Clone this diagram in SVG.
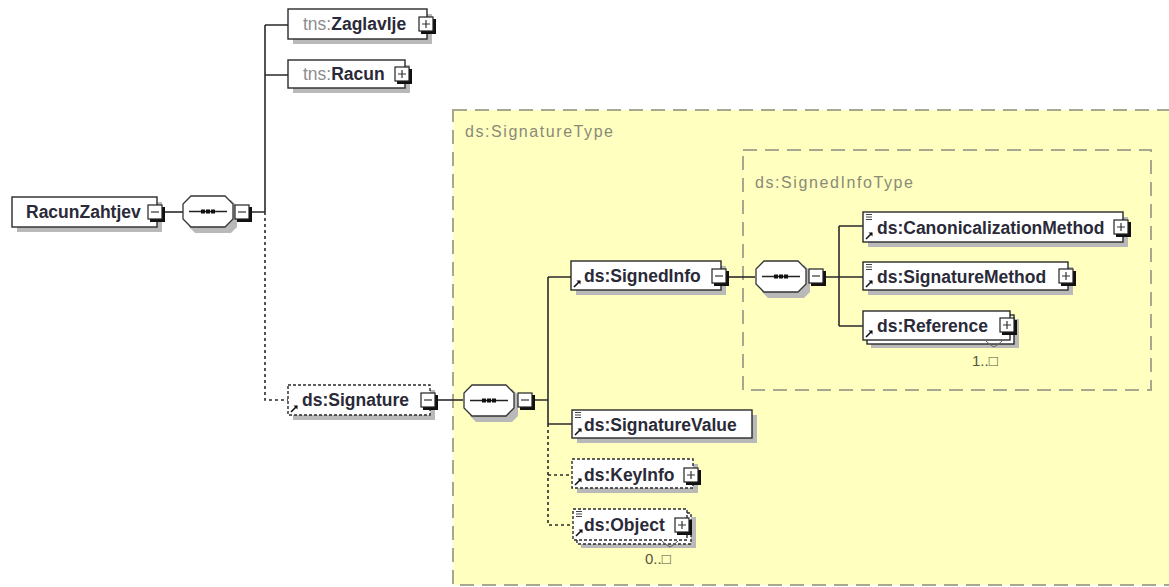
<svg xmlns="http://www.w3.org/2000/svg" width="1169" height="587" viewBox="0 0 1169 587">
<style>
.bg{fill:#ffffff}
.ybox{fill:#ffffc0;stroke:#a8a890;stroke-width:2;stroke-dasharray:14,8}
.ibox{fill:none;stroke:#a8a890;stroke-width:2;stroke-dasharray:14,8}
.box{fill:#ffffff;stroke:#2a2a2a;stroke-width:1.4}
.dbox{fill:#ffffff;stroke:#2a2a2a;stroke-width:1.4;stroke-dasharray:3,2}
.sh{fill:#b9b9b9}
.name{font-family:"Liberation Sans",Arial,sans-serif;font-weight:bold;font-size:17.5px;fill:#2a2a38}
.pfx{fill:#8c8c8c;font-weight:normal}
.lbl{font-family:"Liberation Sans",Arial,sans-serif;font-size:16px;fill:#8a8a78}
.occ{font-family:"Liberation Sans",Arial,sans-serif;font-size:15px;fill:#55553a}
.conn{fill:none;stroke:#2a2a2a;stroke-width:1.6}
.dot{fill:none;stroke:#2a2a2a;stroke-width:1.6;stroke-dasharray:3,3}
.ico{fill:#ffffff;stroke:#222;stroke-width:1.2}
.ish{fill:#111}
.mark{fill:none;stroke:#333;stroke-width:1.2}
</style>
<defs>
<g id="plus">
<rect class="ish" x="2" y="2" width="15" height="15"/>
<rect class="ico" x="0" y="0" width="14" height="14"/>
<path class="mark" d="M3,7H11M7,3V11"/>
</g>
<g id="minus">
<rect class="ish" x="2" y="2" width="15" height="15"/>
<rect class="ico" x="0" y="0" width="14" height="14"/>
<path class="mark" d="M3,7H11"/>
</g>
<g id="refarrow">
<path d="M0,8L6,2" stroke="#111" stroke-width="1.6"/>
<path d="M2.5,1.5H6.5V5.5Z" fill="#111"/>
</g>
<g id="simple">
<path d="M0,0.5H6M0,3H6M0,5.5H6" stroke="#444" stroke-width="1.1"/>
</g>
<g id="seq">
<path class="sh" d="M12,4H48L54,10V31L48,37H12L6,31V10Z"/>
<path fill="#ffffff" stroke="#333" stroke-width="1.3" d="M8,0H42L50,8V23L42,31H8L0,23V8Z"/>
<path d="M6,15.5H44" stroke="#222" stroke-width="1.4"/>
<rect x="18" y="13.5" width="4" height="4" fill="#111"/>
<rect x="23" y="13.5" width="4" height="4" fill="#111"/>
<rect x="28" y="13.5" width="4" height="4" fill="#111"/>
</g>
</defs>
<rect class="bg" x="0" y="0" width="1169" height="587"/>
<g id="type-SignatureType">
<rect class="ybox" x="453" y="110" width="730" height="475"/>
<text class="lbl" x="465" y="137" textLength="148" lengthAdjust="spacing">ds:SignatureType</text>
</g>
<g id="type-SignedInfoType">
<rect class="ibox" x="743" y="150" width="408" height="240"/>
<text class="lbl" x="755" y="188" textLength="158" lengthAdjust="spacing">ds:SignedInfoType</text>
</g>
<g id="connectors">
<path class="conn" d="M162,212H183"/>
<path class="conn" d="M250,212H265M265,25V212M265,25H288M265,75H288"/>
<path class="dot" d="M265,212V400H288"/>
<path class="conn" d="M436,400H463"/>
<path class="conn" d="M533,400H548M548,277V424M548,277H571M548,424H572"/>
<path class="dot" d="M548,424V525H573M548,475H572"/>
<path class="conn" d="M728,277H755"/>
<path class="conn" d="M824,277H839M839,226V326M839,226H863M839,277H863M839,326H863"/>
</g>
<g id="node-RacunZahtjev">
<rect class="sh" x="17" y="202" width="145" height="30"/>
<rect class="box" x="12" y="197" width="145" height="30"/>
<text class="name" x="26" y="218">RacunZahtjev</text>
<use href="#minus" x="148" y="205"/>
</g>
<g id="node-seq1">
<use href="#seq" x="183" y="196"/>
<use href="#minus" x="235" y="205"/>
</g>
<g id="node-Zaglavlje">
<rect class="sh" x="293" y="14" width="139" height="30"/>
<rect class="box" x="288" y="9" width="139" height="30"/>
<text class="name" x="303" y="30"><tspan class="pfx">tns:</tspan>Zaglavlje</text>
<use href="#plus" x="419" y="17"/>
</g>
<g id="node-Racun">
<rect class="sh" x="293" y="65" width="117" height="28"/>
<rect class="box" x="288" y="60" width="117" height="28"/>
<text class="name" x="303" y="80"><tspan class="pfx">tns:</tspan>Racun</text>
<use href="#plus" x="395" y="67"/>
</g>
<g id="node-Signature">
<rect class="sh" x="293" y="390" width="142" height="30"/>
<rect class="dbox" x="288" y="385" width="142" height="30"/>
<use href="#refarrow" x="291" y="404"/>
<text class="name" x="302" y="406">ds:Signature</text>
<use href="#minus" x="421" y="393"/>
</g>
<g id="node-seq2">
<use href="#seq" x="464" y="385"/>
<use href="#minus" x="518" y="393"/>
</g>
<g id="node-SignedInfo">
<rect class="sh" x="576" y="266" width="150" height="29"/>
<rect class="box" x="571" y="261" width="150" height="29"/>
<use href="#refarrow" x="574" y="279"/>
<text class="name" x="584" y="282">ds:SignedInfo</text>
<use href="#minus" x="712" y="269"/>
</g>
<g id="node-seq3">
<use href="#seq" x="756" y="261"/>
<use href="#minus" x="809" y="269"/>
</g>
<g id="node-CanonicalizationMethod">
<rect class="sh" x="868" y="217" width="260" height="30"/>
<rect class="box" x="863" y="212" width="260" height="30"/>
<use href="#simple" x="866" y="214"/>
<use href="#refarrow" x="866" y="231"/>
<text class="name" x="877" y="234">ds:CanonicalizationMethod</text>
<use href="#plus" x="1114" y="220"/>
</g>
<g id="node-SignatureMethod">
<rect class="sh" x="868" y="267" width="205" height="28"/>
<rect class="box" x="863" y="262" width="205" height="28"/>
<use href="#simple" x="866" y="264"/>
<use href="#refarrow" x="866" y="279"/>
<text class="name" x="877" y="283">ds:SignatureMethod</text>
<use href="#plus" x="1059" y="269"/>
</g>
<g id="node-Reference">
<rect class="sh" x="871" y="319" width="148" height="29"/>
<rect class="box" x="867" y="315" width="147" height="29"/>
<rect class="box" x="863" y="311" width="147" height="29"/>
<use href="#refarrow" x="866" y="329"/>
<text class="name" x="877" y="332">ds:Reference</text>
<use href="#plus" x="1000" y="318"/>
<path d="M986,341q4,4 8,6q4,-2 8,-6" fill="none" stroke="#666" stroke-width="1"/>
<text class="occ" x="972" y="366">1..□</text>
</g>
<g id="node-SignatureValue">
<rect class="sh" x="577" y="415" width="180" height="28"/>
<rect class="box" x="572" y="410" width="180" height="28"/>
<use href="#simple" x="575" y="412"/>
<use href="#refarrow" x="575" y="427"/>
<text class="name" x="584" y="431">ds:SignatureValue</text>
</g>
<g id="node-KeyInfo">
<rect class="sh" x="577" y="464" width="121" height="29"/>
<rect class="dbox" x="572" y="459" width="121" height="29"/>
<use href="#refarrow" x="575" y="477"/>
<text class="name" x="584" y="481">ds:KeyInfo</text>
<use href="#plus" x="684" y="468"/>
</g>
<g id="node-Object">
<rect class="sh" x="581" y="517" width="115" height="31"/>
<rect class="dbox" x="577" y="513" width="114" height="31"/>
<rect class="dbox" x="573" y="509" width="114" height="31"/>
<use href="#simple" x="576" y="511"/>
<use href="#refarrow" x="576" y="528"/>
<text class="name" x="584" y="531">ds:Object</text>
<use href="#plus" x="675" y="518"/>
<path d="M662,541q4,4 8,6q4,-2 8,-6" fill="none" stroke="#666" stroke-width="1"/>
<text class="occ" x="645" y="564">0..□</text>
</g>
</svg>
